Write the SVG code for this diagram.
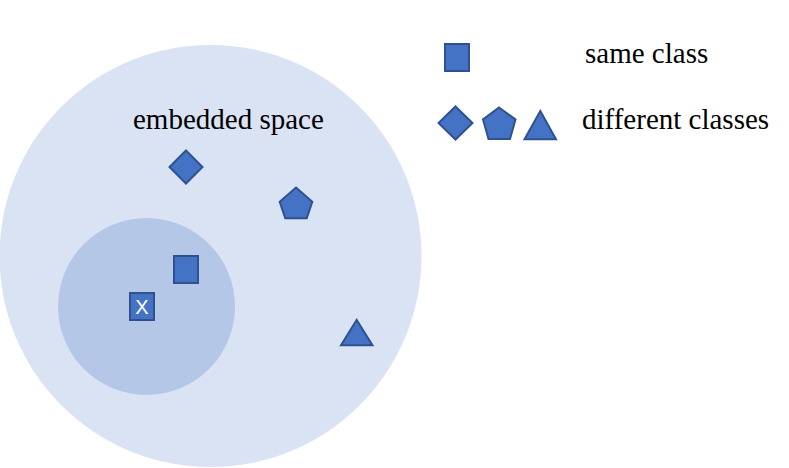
<svg xmlns="http://www.w3.org/2000/svg" width="789" height="468" viewBox="0 0 789 468">
<style>
.shape{fill:#4472c4;stroke:#2f528f;stroke-width:2;stroke-linejoin:miter}
.lbl{font-size:29px;fill:#000}
.x{font-size:20px;fill:#fff;text-anchor:middle}
</style>
<rect width="789" height="468" fill="#fff"/>
<g id="embedded-space">
<circle cx="210.5" cy="256" r="211" fill="#dae3f3"/>
<text class="lbl" font-family="'Liberation Serif', 'DejaVu Serif', serif" x="133" y="129">embedded space</text>
</g>
<g id="neighborhood">
<circle cx="146.5" cy="306.5" r="88.5" fill="#b4c7e7"/>
</g>
<g id="same-square">
<rect class="shape" x="174" y="256" width="24" height="27"/>
</g>
<g id="x-square">
<rect class="shape" x="130" y="293" width="24" height="27"/>
<text class="x" font-family="'Liberation Sans', Arial, sans-serif" x="142" y="314">X</text>
</g>
<g id="diamond">
<polygon class="shape" points="186,150.5 202.5,167 186,183.5 169.5,167"/>
</g>
<g id="pentagon">
<polygon class="shape" points="296,187.5 312.3,201.7 306.7,218.3 285.3,218.3 279.7,201.7"/>
</g>
<g id="triangle">
<polygon class="shape" points="356.7,320 372.5,345.3 341,345.3"/>
</g>
<g id="legend-same">
<rect class="shape" x="445" y="44" width="24" height="27"/>
<text class="lbl" font-family="'Liberation Serif', 'DejaVu Serif', serif" x="585" y="63">same class</text>
</g>
<g id="legend-different">
<polygon class="shape" points="455.5,106.5 472.5,123 455.5,139.5 438.5,123"/>
<polygon class="shape" points="499,107.5 515.5,119.5 510,139 488.5,139 483,119.5"/>
<polygon class="shape" points="540.3,111 556,139.3 524.5,139.3"/>
<text class="lbl" font-family="'Liberation Serif', 'DejaVu Serif', serif" x="582" y="129">different classes</text>
</g>
<g id="connectors"/>
</svg>
